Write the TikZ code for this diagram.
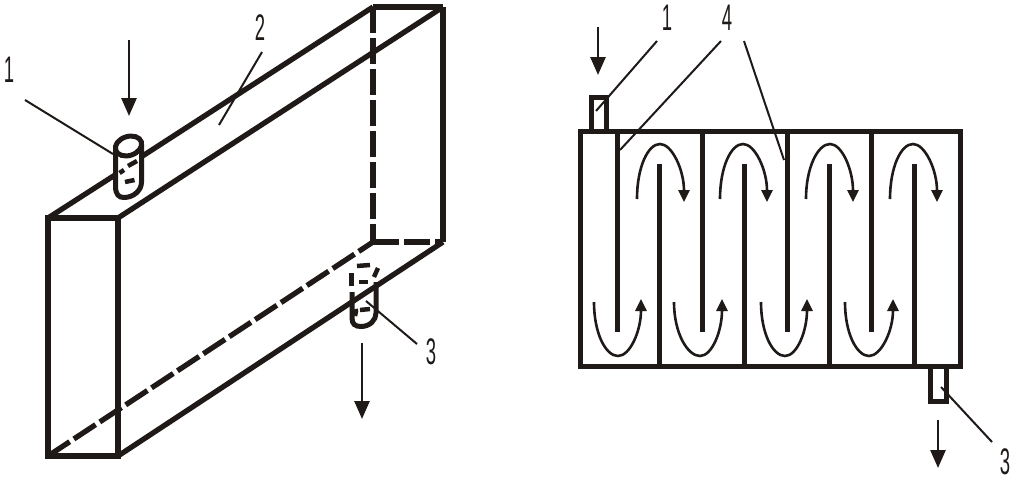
\documentclass[tikz,border=0pt]{standalone}
\usepackage{fontspec}
\setmainfont{Liberation Sans}
\usetikzlibrary{arrows.meta}
\definecolor{ink}{HTML}{1F1A17}
\tikzset{
  numlabel/.style={font=\fontsize{37}{37}\selectfont,text=ink,inner sep=0pt,transform shape,xscale=.5},
  wall/.style={draw=ink,line width=5.3pt,line cap=butt},
  hidden/.style={draw=ink,line width=5.3pt,dash pattern=on 26pt off 5pt},
  leader/.style={draw=ink,line width=2pt},
  feed/.style={draw=ink,line width=2.6pt,-{Triangle[length=18pt,width=15pt]}},
  flow/.style={draw=ink,line width=2.6pt,-{Triangle[length=12pt,width=11pt]}}
}
\begin{document}
\begin{tikzpicture}[x=1pt,y=-1pt]
\useasboundingbox (0,0) rectangle (1024,479);
% left: box in perspective
\coordinate (fa) at (48,218);
\coordinate (fb) at (118,218);
\coordinate (fc) at (118,456);
\coordinate (fd) at (48,456);
\coordinate (ba) at (373,7);
\coordinate (bb) at (443,7);
\coordinate (bc) at (443,242);
\coordinate (bd) at (373,242);
\coordinate (ta1) at (115,175);
\coordinate (ta2) at (141,157);
\begin{scope}[every edge/.style={wall}]
    \path (fa) edge (ta1);
    \path (ta2) edge (ba);
    \path (fb) edge (bb);
    \path (fc) edge (bc);
    \path (bb) edge (bc);
\end{scope}
\draw[wall,line join=miter] (fa) -- (fb) -- (fc) -- (fd) -- cycle;
\draw[wall] (ba) -- (bb);
\path[hidden] (fd) -- (bd);
\path[hidden] (ba) -- (bd);
\path[hidden] (bd) -- (bc);
% left: inlet
\draw[wall,line width=5pt,rotate around={18:(128.5,146)}] (128.5,146) ellipse (13.5 and 9.5);
\draw[wall,line width=5pt] (115.5,148) -- (115.5,186) .. controls (115.5,195) and (119,197.5) .. (124,197.5) .. controls (133,197.5) and (141.5,191) .. (141.5,182) -- (141.5,144);
\draw[wall,line width=4.5pt] (128,166) -- (137,161);
\draw[wall,line width=4.5pt] (119.5,173) -- (124,170);
\draw[wall,line width=4.5pt] (125,182) -- (134.5,180);
% left: outlet
\draw[wall,line width=5pt] (352,292) -- (352,318) .. controls (352,324) and (355,326.5) .. (361,326.5) .. controls (370,326.5) and (376,320) .. (376,313) -- (376,282);
\draw[wall,line width=4.5pt] (351.5,286) -- (351.5,273);
\draw[wall,line width=4.5pt] (357,266) -- (370,265);
\draw[wall,line width=4.5pt] (374,277) -- (378,268);
\draw[wall,line width=4.5pt] (359,282) -- (368,282);
\draw[wall,line width=4.5pt] (360,310) -- (370,309);
\draw[wall,line width=4.5pt] (355,316) -- (356,311) -- (355.5,309);
% left: pointers and flow
\coordinate (lp1a) at (25,100);
\coordinate (lp1b) at (113,154);
\coordinate (lp2a) at (262,52);
\coordinate (lp2b) at (219,125);
\coordinate (lp3a) at (417,344);
\coordinate (lp3b) at (366,301);
\coordinate (lin1) at (129,40);
\coordinate (lin2) at (129,116);
\coordinate (lout1) at (362,343);
\coordinate (lout2) at (362,419);
\begin{scope}[every edge/.style={leader}]
    \path (lp1a) edge (lp1b);
    \path (lp2a) edge (lp2b);
    \path (lp3a) edge (lp3b);
\end{scope}
\path[feed] (lin1) -- (lin2);
\path[feed] (lout1) -- (lout2);
\node[numlabel] (l1) at (9,70) {1};
\node[numlabel] (l2) at (260,28) {2};
\node[numlabel] (l3) at (431,352) {3};
% right: tank
\draw[wall,line width=5pt,line join=miter] (580.5,131) rectangle (960.5,366.5);
\draw[wall,line width=5pt,line join=miter] (591,131) -- (591,97.5) -- (606,97.5) -- (606,131);
\draw[wall,line width=5pt,line join=miter] (930,367) -- (930,401) -- (946.5,401) -- (946.5,367);
\coordinate (p1) at (617,131);
\coordinate (q1) at (617,332);
\coordinate (p2) at (702,131);
\coordinate (q2) at (702,332);
\coordinate (p3) at (787,131);
\coordinate (q3) at (787,332);
\coordinate (p4) at (871,131);
\coordinate (q4) at (871,332);
\coordinate (r1) at (659,366);
\coordinate (s1) at (659,164);
\coordinate (r2) at (744,366);
\coordinate (s2) at (744,164);
\coordinate (r3) at (829,366);
\coordinate (s3) at (829,164);
\coordinate (r4) at (914,366);
\coordinate (s4) at (914,164);
\begin{scope}[every edge/.style={wall,line width=5pt}]
    \path (p1) edge (q1);
    \path (p2) edge (q2);
    \path (p3) edge (q3);
    \path (p4) edge (q4);
    \path (r1) edge (s1);
    \path (r2) edge (s2);
    \path (r3) edge (s3);
    \path (r4) edge (s4);
\end{scope}
% right: turns at the top
\draw[flow] (637,199) .. controls +(0,-32) and +(-12,0) .. (660,144) .. controls +(12,0) and +(0,-32) .. (684,202);
\draw[flow] (720,199) .. controls +(0,-32) and +(-12,0) .. (743,144) .. controls +(12,0) and +(0,-32) .. (767,202);
\draw[flow] (806,199) .. controls +(0,-32) and +(-12,0) .. (830,144) .. controls +(12,0) and +(0,-32) .. (853,202);
\draw[flow] (890,199) .. controls +(0,-32) and +(-12,0) .. (913,144) .. controls +(12,0) and +(0,-32) .. (937,202);
% right: turns at the bottom
\draw[flow] (594,302) .. controls +(0,32) and +(-12,0) .. (618,356) .. controls +(12,0) and +(0,32) .. (641,299);
\draw[flow] (674,302) .. controls +(0,32) and +(-12,0) .. (700,356) .. controls +(12,0) and +(0,32) .. (722,299);
\draw[flow] (761,302) .. controls +(0,32) and +(-12,0) .. (785,356) .. controls +(12,0) and +(0,32) .. (807,299);
\draw[flow] (845,302) .. controls +(0,32) and +(-12,0) .. (869,356) .. controls +(12,0) and +(0,32) .. (893,299);
% right: pointers and flow
\coordinate (rp1a) at (657,41);
\coordinate (rp1b) at (596,111);
\coordinate (rp4a) at (721,41);
\coordinate (rp4b) at (620,150);
\coordinate (rp5a) at (744,41);
\coordinate (rp5b) at (784,160);
\coordinate (rp3a) at (992,442);
\coordinate (rp3b) at (941,387);
\coordinate (rin1) at (598,27);
\coordinate (rin2) at (598,75);
\coordinate (rout1) at (938,420);
\coordinate (rout2) at (938,468);
\begin{scope}[every edge/.style={leader}]
    \path (rp1a) edge (rp1b);
    \path (rp4a) edge (rp4b);
    \path (rp5a) edge (rp5b);
    \path (rp3a) edge (rp3b);
\end{scope}
\path[feed] (rin1) -- (rin2);
\path[feed] (rout1) -- (rout2);
\node[numlabel] (r1l) at (667,18) {1};
\node[numlabel] (r4l) at (727,18) {4};
\node[numlabel] (r3l) at (1005,462) {3};
\end{tikzpicture}
\end{document}
